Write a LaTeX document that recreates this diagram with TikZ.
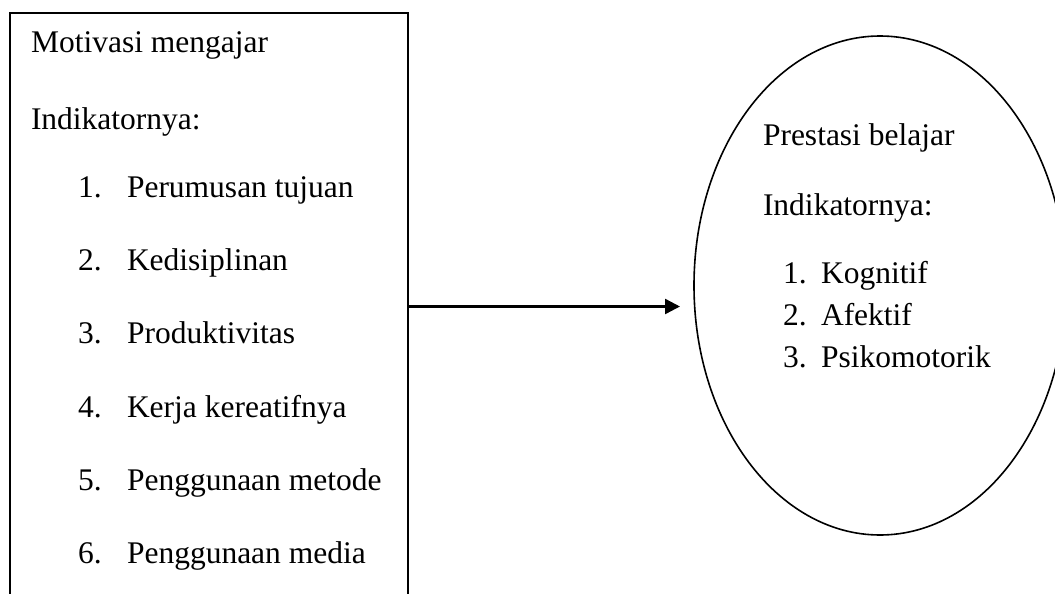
\documentclass[tikz,border=0pt]{standalone}
\usepackage{fontspec}
\setmainfont{Liberation Serif}
\usetikzlibrary{shapes.geometric,arrows.meta}
\tikzset{
  txt/.style={anchor=base west, inner sep=0pt, outer sep=0pt, font=\fontsize{31.5}{36}\selectfont},
  boxshape/.style={draw, line width=2pt, inner sep=0pt, minimum width=398pt, minimum height=587pt},
  ellshape/.style={draw, ellipse, line width=1.6pt, inner sep=0pt, minimum width=372pt, minimum height=499pt},
  link/.style={line width=2.4pt, -{Triangle[length=15pt,width=15pt]}}
}
\begin{document}
\begin{tikzpicture}[x=1pt,y=-1pt]
\useasboundingbox (0,0) rectangle (1055,594);
\fill[white] (0,0) rectangle (1055,594);
\begin{scope}
\clip (0,0) rectangle (1055,594);
\node[boxshape] (box) at (209,306.5) {};
\node[ellshape] (ell) at (880,285.5) {};
\coordinate (tip) at (680,306.5);
\draw[link] (box.east) -- (tip);
\end{scope}
% left box texts
\node[txt] (t0) at (31,53) {Motivasi mengajar};
\node[txt] (t1) at (31,129) {Indikatornya:};
\node[txt] (n1) at (78,197) {1.};
\node[txt] (i1) at (127,197) {Perumusan tujuan};
\node[txt] (n2) at (78,270) {2.};
\node[txt] (i2) at (127,270) {Kedisiplinan};
\node[txt] (n3) at (78,343.5) {3.};
\node[txt] (i3) at (127,343.5) {Produktivitas};
\node[txt] (n4) at (78,417) {4.};
\node[txt] (i4) at (127,417) {Kerja kereatifnya};
\node[txt] (n5) at (78,490) {5.};
\node[txt] (i5) at (127,490) {Penggunaan metode};
\node[txt] (n6) at (78,563) {6.};
\node[txt] (i6) at (127,563) {Penggunaan media};
% ellipse texts
\node[txt] (r0) at (763,145) {Prestasi belajar};
\node[txt] (r1) at (763,215) {Indikatornya:};
\node[txt] (m1) at (783,283) {1.};
\node[txt] (j1) at (821,283) {Kognitif};
\node[txt] (m2) at (783,325) {2.};
\node[txt] (j2) at (821,325) {Afektif};
\node[txt] (m3) at (783,367) {3.};
\node[txt] (j3) at (821,367) {Psikomotorik};
\end{tikzpicture}
\end{document}
